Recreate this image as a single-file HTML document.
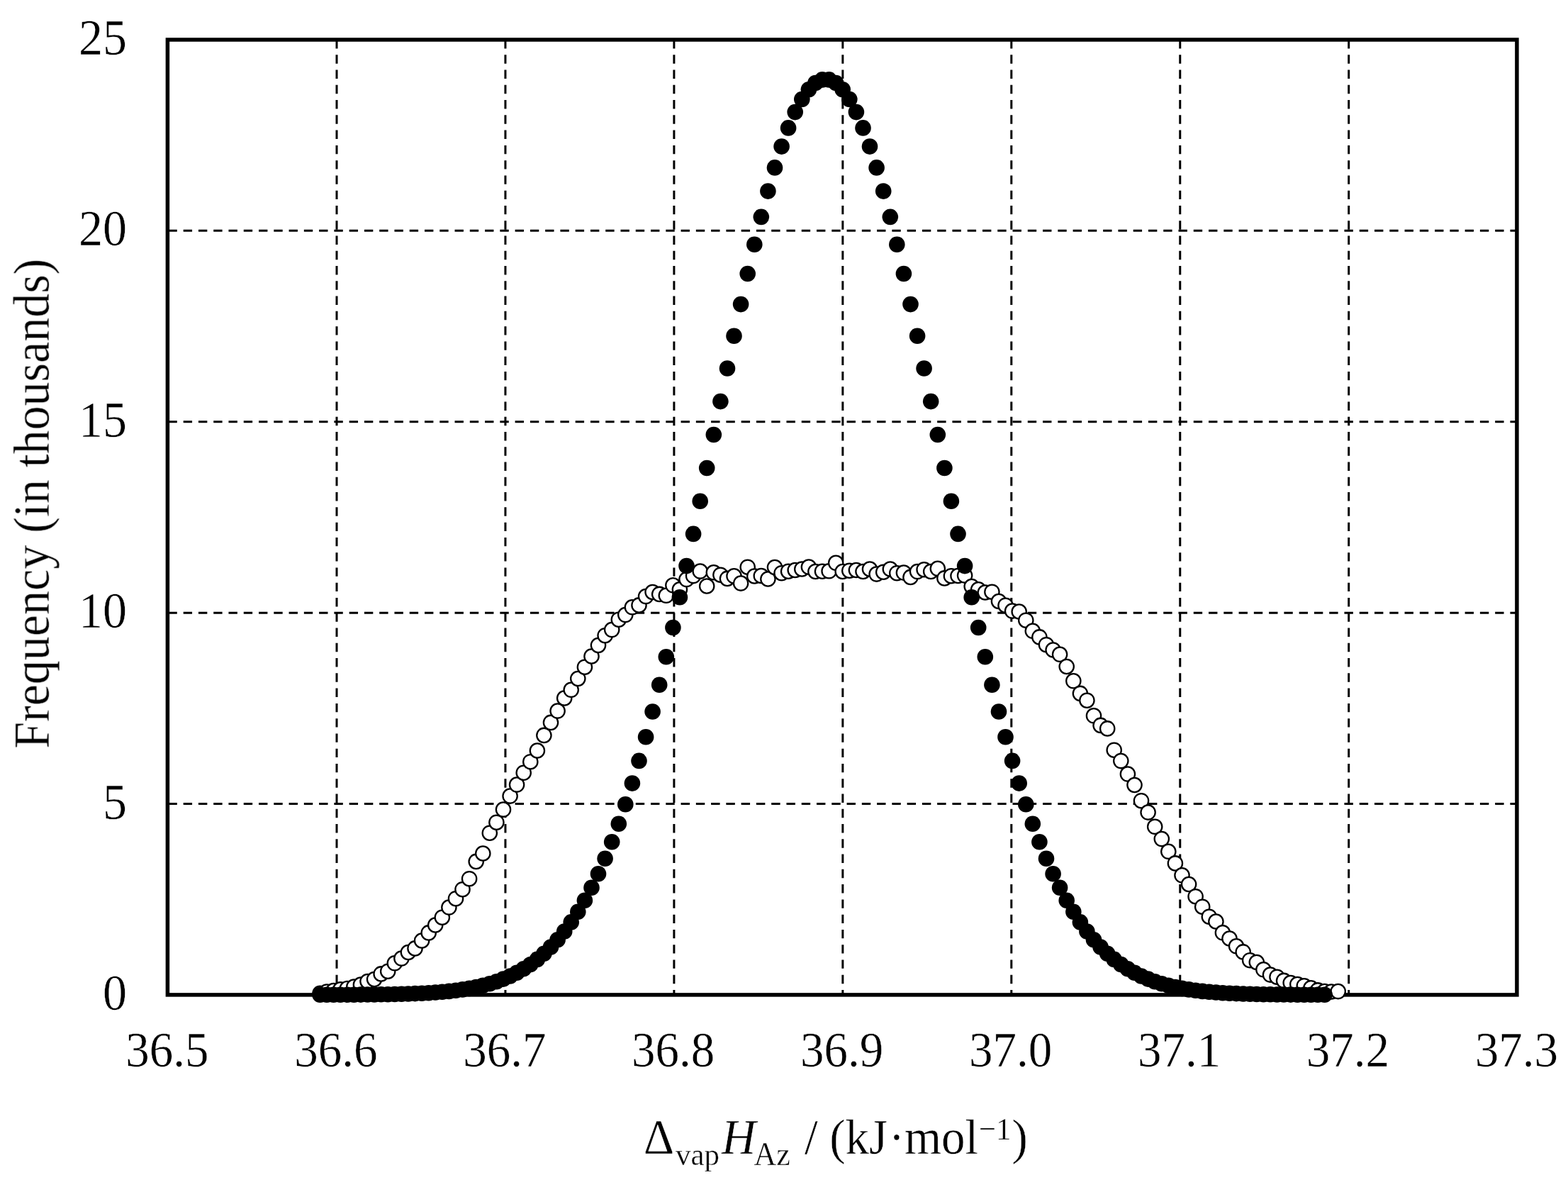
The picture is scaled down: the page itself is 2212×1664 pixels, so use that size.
<!DOCTYPE html>
<html lang="en"><head><meta charset="utf-8"><title>Frequency distribution</title>
<style>html,body{margin:0;padding:0;background:#fff}body{width:2212px;height:1664px;overflow:hidden}svg{display:block}text{font-family:"Liberation Serif","DejaVu Serif",serif;fill:#000}</style></head><body>
<svg width="2212" height="1664" viewBox="0 0 2212 1664">
<defs><filter id="soft" x="0" y="0" width="2212" height="1664" filterUnits="userSpaceOnUse"><feGaussianBlur stdDeviation="0.30"/></filter></defs>
<rect x="0" y="0" width="2212" height="1664" fill="#fff"/>
<g filter="url(#soft)">
<g stroke="#000" stroke-width="3.00" stroke-dasharray="12.4 8.87" fill="none"><line x1="475.00" y1="56.00" x2="475.00" y2="1402.90" stroke-dashoffset="0.00"/><line x1="712.95" y1="56.00" x2="712.95" y2="1402.90" stroke-dashoffset="0.00"/><line x1="950.90" y1="56.00" x2="950.90" y2="1402.90" stroke-dashoffset="0.00"/><line x1="1188.85" y1="56.00" x2="1188.85" y2="1402.90" stroke-dashoffset="0.00"/><line x1="1426.80" y1="56.00" x2="1426.80" y2="1402.90" stroke-dashoffset="0.00"/><line x1="1664.75" y1="56.00" x2="1664.75" y2="1402.90" stroke-dashoffset="0.00"/><line x1="1902.70" y1="56.00" x2="1902.70" y2="1402.90" stroke-dashoffset="0.00"/><line x1="236.40" y1="1133.57" x2="2139.90" y2="1133.57" stroke-dashoffset="-1.00"/><line x1="236.40" y1="864.14" x2="2139.90" y2="864.14" stroke-dashoffset="-1.00"/><line x1="236.40" y1="594.71" x2="2139.90" y2="594.71" stroke-dashoffset="-1.00"/><line x1="236.40" y1="325.28" x2="2139.90" y2="325.28" stroke-dashoffset="-1.00"/></g>
<rect x="236.40" y="56.00" width="1903.50" height="1346.90" fill="none" stroke="#000" stroke-width="5.50"/>
<g fill="#fff" stroke="#000" stroke-width="2.30"><circle cx="451.5" cy="1400.7" r="10.15"/><circle cx="461.0" cy="1398.6" r="10.15"/><circle cx="470.6" cy="1397.0" r="10.15"/><circle cx="480.2" cy="1395.3" r="10.15"/><circle cx="489.8" cy="1394.0" r="10.15"/><circle cx="499.3" cy="1391.5" r="10.15"/><circle cx="508.9" cy="1388.5" r="10.15"/><circle cx="518.5" cy="1384.0" r="10.15"/><circle cx="528.1" cy="1381.0" r="10.15"/><circle cx="537.6" cy="1373.4" r="10.15"/><circle cx="547.2" cy="1369.7" r="10.15"/><circle cx="556.8" cy="1358.3" r="10.15"/><circle cx="566.4" cy="1351.6" r="10.15"/><circle cx="575.9" cy="1343.0" r="10.15"/><circle cx="585.5" cy="1337.4" r="10.15"/><circle cx="595.1" cy="1326.5" r="10.15"/><circle cx="604.7" cy="1315.4" r="10.15"/><circle cx="614.2" cy="1304.5" r="10.15"/><circle cx="623.8" cy="1293.7" r="10.15"/><circle cx="633.4" cy="1279.6" r="10.15"/><circle cx="643.0" cy="1267.2" r="10.15"/><circle cx="652.5" cy="1254.2" r="10.15"/><circle cx="662.1" cy="1239.2" r="10.15"/><circle cx="671.7" cy="1214.9" r="10.15"/><circle cx="681.3" cy="1203.5" r="10.15"/><circle cx="690.8" cy="1174.7" r="10.15"/><circle cx="700.4" cy="1159.7" r="10.15"/><circle cx="710.0" cy="1141.6" r="10.15"/><circle cx="719.6" cy="1122.6" r="10.15"/><circle cx="729.1" cy="1106.6" r="10.15"/><circle cx="738.7" cy="1089.7" r="10.15"/><circle cx="748.3" cy="1074.2" r="10.15"/><circle cx="757.9" cy="1058.5" r="10.15"/><circle cx="767.4" cy="1036.9" r="10.15"/><circle cx="777.0" cy="1018.9" r="10.15"/><circle cx="786.6" cy="1002.6" r="10.15"/><circle cx="796.2" cy="984.5" r="10.15"/><circle cx="805.7" cy="972.8" r="10.15"/><circle cx="815.3" cy="957.0" r="10.15"/><circle cx="824.9" cy="940.7" r="10.15"/><circle cx="834.5" cy="925.5" r="10.15"/><circle cx="844.0" cy="910.0" r="10.15"/><circle cx="853.6" cy="896.2" r="10.15"/><circle cx="863.2" cy="888.1" r="10.15"/><circle cx="872.8" cy="873.7" r="10.15"/><circle cx="882.3" cy="867.1" r="10.15"/><circle cx="891.9" cy="856.3" r="10.15"/><circle cx="901.5" cy="853.4" r="10.15"/><circle cx="911.1" cy="841.1" r="10.15"/><circle cx="920.6" cy="835.0" r="10.15"/><circle cx="930.2" cy="837.9" r="10.15"/><circle cx="939.8" cy="839.8" r="10.15"/><circle cx="949.4" cy="825.3" r="10.15"/><circle cx="958.9" cy="831.3" r="10.15"/><circle cx="968.5" cy="817.1" r="10.15"/><circle cx="978.1" cy="812.1" r="10.15"/><circle cx="987.7" cy="805.6" r="10.15"/><circle cx="997.2" cy="826.5" r="10.15"/><circle cx="1006.8" cy="807.3" r="10.15"/><circle cx="1016.4" cy="810.7" r="10.15"/><circle cx="1026.0" cy="815.9" r="10.15"/><circle cx="1035.5" cy="812.3" r="10.15"/><circle cx="1045.1" cy="822.6" r="10.15"/><circle cx="1054.7" cy="799.7" r="10.15"/><circle cx="1064.3" cy="812.5" r="10.15"/><circle cx="1073.8" cy="812.0" r="10.15"/><circle cx="1083.4" cy="816.5" r="10.15"/><circle cx="1093.0" cy="800.0" r="10.15"/><circle cx="1102.6" cy="808.2" r="10.15"/><circle cx="1112.1" cy="805.7" r="10.15"/><circle cx="1121.7" cy="804.0" r="10.15"/><circle cx="1131.3" cy="802.5" r="10.15"/><circle cx="1140.9" cy="799.6" r="10.15"/><circle cx="1150.4" cy="806.0" r="10.15"/><circle cx="1160.0" cy="805.7" r="10.15"/><circle cx="1169.6" cy="805.3" r="10.15"/><circle cx="1179.2" cy="793.8" r="10.15"/><circle cx="1188.7" cy="806.0" r="10.15"/><circle cx="1198.3" cy="804.7" r="10.15"/><circle cx="1207.9" cy="804.0" r="10.15"/><circle cx="1217.5" cy="806.0" r="10.15"/><circle cx="1227.0" cy="802.5" r="10.15"/><circle cx="1236.6" cy="809.6" r="10.15"/><circle cx="1246.2" cy="806.7" r="10.15"/><circle cx="1255.8" cy="802.5" r="10.15"/><circle cx="1265.3" cy="808.2" r="10.15"/><circle cx="1274.9" cy="807.6" r="10.15"/><circle cx="1284.5" cy="813.9" r="10.15"/><circle cx="1294.1" cy="806.1" r="10.15"/><circle cx="1303.6" cy="803.2" r="10.15"/><circle cx="1313.2" cy="806.0" r="10.15"/><circle cx="1322.8" cy="801.8" r="10.15"/><circle cx="1332.4" cy="815.4" r="10.15"/><circle cx="1341.9" cy="812.2" r="10.15"/><circle cx="1351.5" cy="812.0" r="10.15"/><circle cx="1361.1" cy="811.6" r="10.15"/><circle cx="1370.7" cy="827.0" r="10.15"/><circle cx="1380.2" cy="831.3" r="10.15"/><circle cx="1389.8" cy="835.5" r="10.15"/><circle cx="1399.4" cy="834.7" r="10.15"/><circle cx="1409.0" cy="848.0" r="10.15"/><circle cx="1418.5" cy="853.7" r="10.15"/><circle cx="1428.1" cy="861.6" r="10.15"/><circle cx="1437.7" cy="862.5" r="10.15"/><circle cx="1447.3" cy="874.7" r="10.15"/><circle cx="1456.8" cy="889.8" r="10.15"/><circle cx="1466.4" cy="898.4" r="10.15"/><circle cx="1476.0" cy="909.2" r="10.15"/><circle cx="1485.6" cy="916.5" r="10.15"/><circle cx="1495.1" cy="922.8" r="10.15"/><circle cx="1504.7" cy="940.0" r="10.15"/><circle cx="1514.3" cy="960.3" r="10.15"/><circle cx="1523.9" cy="977.9" r="10.15"/><circle cx="1533.4" cy="987.7" r="10.15"/><circle cx="1543.0" cy="1009.3" r="10.15"/><circle cx="1552.6" cy="1022.9" r="10.15"/><circle cx="1562.2" cy="1027.4" r="10.15"/><circle cx="1571.7" cy="1057.7" r="10.15"/><circle cx="1581.3" cy="1073.1" r="10.15"/><circle cx="1590.9" cy="1091.6" r="10.15"/><circle cx="1600.5" cy="1107.0" r="10.15"/><circle cx="1610.0" cy="1129.2" r="10.15"/><circle cx="1619.6" cy="1145.6" r="10.15"/><circle cx="1629.2" cy="1165.8" r="10.15"/><circle cx="1638.8" cy="1183.1" r="10.15"/><circle cx="1648.3" cy="1200.8" r="10.15"/><circle cx="1657.9" cy="1217.4" r="10.15"/><circle cx="1667.5" cy="1234.3" r="10.15"/><circle cx="1677.1" cy="1247.0" r="10.15"/><circle cx="1686.6" cy="1264.2" r="10.15"/><circle cx="1696.2" cy="1278.7" r="10.15"/><circle cx="1705.8" cy="1292.7" r="10.15"/><circle cx="1715.4" cy="1299.5" r="10.15"/><circle cx="1724.9" cy="1315.3" r="10.15"/><circle cx="1734.5" cy="1323.5" r="10.15"/><circle cx="1744.1" cy="1334.3" r="10.15"/><circle cx="1753.7" cy="1342.4" r="10.15"/><circle cx="1763.2" cy="1354.2" r="10.15"/><circle cx="1772.8" cy="1357.0" r="10.15"/><circle cx="1782.4" cy="1367.3" r="10.15"/><circle cx="1792.0" cy="1374.6" r="10.15"/><circle cx="1801.5" cy="1377.7" r="10.15"/><circle cx="1811.1" cy="1382.9" r="10.15"/><circle cx="1820.7" cy="1386.0" r="10.15"/><circle cx="1830.3" cy="1388.1" r="10.15"/><circle cx="1839.8" cy="1390.2" r="10.15"/><circle cx="1849.4" cy="1393.3" r="10.15"/><circle cx="1859.0" cy="1396.4" r="10.15"/><circle cx="1868.6" cy="1398.0" r="10.15"/><circle cx="1878.1" cy="1398.5" r="10.15"/><circle cx="1887.7" cy="1398.1" r="10.15"/></g>
<g fill="#000"><circle cx="451.5" cy="1402.8" r="11.30"/><circle cx="461.0" cy="1402.8" r="11.30"/><circle cx="470.6" cy="1402.8" r="11.30"/><circle cx="480.2" cy="1402.8" r="11.30"/><circle cx="489.8" cy="1402.7" r="11.30"/><circle cx="499.3" cy="1402.7" r="11.30"/><circle cx="508.9" cy="1402.6" r="11.30"/><circle cx="518.5" cy="1402.5" r="11.30"/><circle cx="528.1" cy="1402.5" r="11.30"/><circle cx="537.6" cy="1402.3" r="11.30"/><circle cx="547.2" cy="1402.2" r="11.30"/><circle cx="556.8" cy="1402.0" r="11.30"/><circle cx="566.4" cy="1401.8" r="11.30"/><circle cx="575.9" cy="1401.5" r="11.30"/><circle cx="585.5" cy="1401.1" r="11.30"/><circle cx="595.1" cy="1400.7" r="11.30"/><circle cx="604.7" cy="1400.2" r="11.30"/><circle cx="614.2" cy="1399.5" r="11.30"/><circle cx="623.8" cy="1398.8" r="11.30"/><circle cx="633.4" cy="1397.9" r="11.30"/><circle cx="643.0" cy="1396.7" r="11.30"/><circle cx="652.5" cy="1395.4" r="11.30"/><circle cx="662.1" cy="1393.9" r="11.30"/><circle cx="671.7" cy="1392.0" r="11.30"/><circle cx="681.3" cy="1389.8" r="11.30"/><circle cx="690.8" cy="1387.2" r="11.30"/><circle cx="700.4" cy="1384.2" r="11.30"/><circle cx="710.0" cy="1380.6" r="11.30"/><circle cx="719.6" cy="1376.5" r="11.30"/><circle cx="729.1" cy="1371.8" r="11.30"/><circle cx="738.7" cy="1366.3" r="11.30"/><circle cx="748.3" cy="1360.1" r="11.30"/><circle cx="757.9" cy="1352.9" r="11.30"/><circle cx="767.4" cy="1344.8" r="11.30"/><circle cx="777.0" cy="1335.6" r="11.30"/><circle cx="786.6" cy="1325.2" r="11.30"/><circle cx="796.2" cy="1313.5" r="11.30"/><circle cx="805.7" cy="1300.4" r="11.30"/><circle cx="815.3" cy="1285.8" r="11.30"/><circle cx="824.9" cy="1269.7" r="11.30"/><circle cx="834.5" cy="1251.8" r="11.30"/><circle cx="844.0" cy="1232.2" r="11.30"/><circle cx="853.6" cy="1210.7" r="11.30"/><circle cx="863.2" cy="1187.2" r="11.30"/><circle cx="872.8" cy="1161.7" r="11.30"/><circle cx="882.3" cy="1134.2" r="11.30"/><circle cx="891.9" cy="1104.6" r="11.30"/><circle cx="901.5" cy="1072.9" r="11.30"/><circle cx="911.1" cy="1039.2" r="11.30"/><circle cx="920.6" cy="1003.5" r="11.30"/><circle cx="930.2" cy="965.8" r="11.30"/><circle cx="939.8" cy="926.3" r="11.30"/><circle cx="949.4" cy="885.0" r="11.30"/><circle cx="958.9" cy="842.3" r="11.30"/><circle cx="968.5" cy="798.1" r="11.30"/><circle cx="978.1" cy="752.9" r="11.30"/><circle cx="987.7" cy="706.8" r="11.30"/><circle cx="997.2" cy="660.0" r="11.30"/><circle cx="1006.8" cy="613.0" r="11.30"/><circle cx="1016.4" cy="566.1" r="11.30"/><circle cx="1026.0" cy="519.5" r="11.30"/><circle cx="1035.5" cy="473.7" r="11.30"/><circle cx="1045.1" cy="429.1" r="11.30"/><circle cx="1054.7" cy="386.0" r="11.30"/><circle cx="1064.3" cy="344.8" r="11.30"/><circle cx="1073.8" cy="305.9" r="11.30"/><circle cx="1083.4" cy="269.6" r="11.30"/><circle cx="1093.0" cy="236.4" r="11.30"/><circle cx="1102.6" cy="206.6" r="11.30"/><circle cx="1112.1" cy="180.4" r="11.30"/><circle cx="1121.7" cy="158.1" r="11.30"/><circle cx="1131.3" cy="140.0" r="11.30"/><circle cx="1140.9" cy="126.3" r="11.30"/><circle cx="1150.4" cy="117.0" r="11.30"/><circle cx="1160.0" cy="112.4" r="11.30"/><circle cx="1169.6" cy="112.4" r="11.30"/><circle cx="1179.2" cy="117.0" r="11.30"/><circle cx="1188.7" cy="126.3" r="11.30"/><circle cx="1198.3" cy="140.0" r="11.30"/><circle cx="1207.9" cy="158.1" r="11.30"/><circle cx="1217.5" cy="180.4" r="11.30"/><circle cx="1227.0" cy="206.6" r="11.30"/><circle cx="1236.6" cy="236.4" r="11.30"/><circle cx="1246.2" cy="269.6" r="11.30"/><circle cx="1255.8" cy="305.9" r="11.30"/><circle cx="1265.3" cy="344.8" r="11.30"/><circle cx="1274.9" cy="386.0" r="11.30"/><circle cx="1284.5" cy="429.1" r="11.30"/><circle cx="1294.1" cy="473.7" r="11.30"/><circle cx="1303.6" cy="519.5" r="11.30"/><circle cx="1313.2" cy="566.1" r="11.30"/><circle cx="1322.8" cy="613.0" r="11.30"/><circle cx="1332.4" cy="660.0" r="11.30"/><circle cx="1341.9" cy="706.8" r="11.30"/><circle cx="1351.5" cy="752.9" r="11.30"/><circle cx="1361.1" cy="798.1" r="11.30"/><circle cx="1370.7" cy="842.3" r="11.30"/><circle cx="1380.2" cy="885.0" r="11.30"/><circle cx="1389.8" cy="926.3" r="11.30"/><circle cx="1399.4" cy="965.8" r="11.30"/><circle cx="1409.0" cy="1003.5" r="11.30"/><circle cx="1418.5" cy="1039.2" r="11.30"/><circle cx="1428.1" cy="1072.9" r="11.30"/><circle cx="1437.7" cy="1104.6" r="11.30"/><circle cx="1447.3" cy="1134.2" r="11.30"/><circle cx="1456.8" cy="1161.7" r="11.30"/><circle cx="1466.4" cy="1187.2" r="11.30"/><circle cx="1476.0" cy="1210.7" r="11.30"/><circle cx="1485.6" cy="1232.2" r="11.30"/><circle cx="1495.1" cy="1251.8" r="11.30"/><circle cx="1504.7" cy="1269.7" r="11.30"/><circle cx="1514.3" cy="1285.8" r="11.30"/><circle cx="1523.9" cy="1300.4" r="11.30"/><circle cx="1533.4" cy="1313.5" r="11.30"/><circle cx="1543.0" cy="1325.2" r="11.30"/><circle cx="1552.6" cy="1335.6" r="11.30"/><circle cx="1562.2" cy="1344.8" r="11.30"/><circle cx="1571.7" cy="1352.9" r="11.30"/><circle cx="1581.3" cy="1360.1" r="11.30"/><circle cx="1590.9" cy="1366.3" r="11.30"/><circle cx="1600.5" cy="1371.8" r="11.30"/><circle cx="1610.0" cy="1376.5" r="11.30"/><circle cx="1619.6" cy="1380.6" r="11.30"/><circle cx="1629.2" cy="1384.2" r="11.30"/><circle cx="1638.8" cy="1387.2" r="11.30"/><circle cx="1648.3" cy="1389.8" r="11.30"/><circle cx="1657.9" cy="1392.0" r="11.30"/><circle cx="1667.5" cy="1393.9" r="11.30"/><circle cx="1677.1" cy="1395.4" r="11.30"/><circle cx="1686.6" cy="1396.7" r="11.30"/><circle cx="1696.2" cy="1397.9" r="11.30"/><circle cx="1705.8" cy="1398.8" r="11.30"/><circle cx="1715.4" cy="1399.5" r="11.30"/><circle cx="1724.9" cy="1400.2" r="11.30"/><circle cx="1734.5" cy="1400.7" r="11.30"/><circle cx="1744.1" cy="1401.1" r="11.30"/><circle cx="1753.7" cy="1401.5" r="11.30"/><circle cx="1763.2" cy="1401.8" r="11.30"/><circle cx="1772.8" cy="1402.0" r="11.30"/><circle cx="1782.4" cy="1402.2" r="11.30"/><circle cx="1792.0" cy="1402.3" r="11.30"/><circle cx="1801.5" cy="1402.5" r="11.30"/><circle cx="1811.1" cy="1402.5" r="11.30"/><circle cx="1820.7" cy="1402.6" r="11.30"/><circle cx="1830.3" cy="1402.7" r="11.30"/><circle cx="1839.8" cy="1402.7" r="11.30"/><circle cx="1849.4" cy="1402.8" r="11.30"/><circle cx="1859.0" cy="1402.8" r="11.30"/><circle cx="1868.6" cy="1402.8" r="11.30"/></g>
<g stroke="#fff" stroke-width="0.40" stroke-linejoin="round">
<text transform="translate(179.0,1423.90) scale(1,1.045)" font-size="68.0" text-anchor="end">0</text>
<text transform="translate(179.0,1154.52) scale(1,1.045)" font-size="68.0" text-anchor="end">5</text>
<text transform="translate(179.0,885.14) scale(1,1.045)" font-size="68.0" text-anchor="end">10</text>
<text transform="translate(179.0,615.76) scale(1,1.045)" font-size="68.0" text-anchor="end">15</text>
<text transform="translate(179.0,346.38) scale(1,1.045)" font-size="68.0" text-anchor="end">20</text>
<text transform="translate(179.0,77.00) scale(1,1.045)" font-size="68.0" text-anchor="end">25</text>
<text transform="translate(235.90,1504.3) scale(1,1.055)" font-size="67.0" text-anchor="middle">36.5</text>
<text transform="translate(473.84,1504.3) scale(1,1.055)" font-size="67.0" text-anchor="middle">36.6</text>
<text transform="translate(711.77,1504.3) scale(1,1.055)" font-size="67.0" text-anchor="middle">36.7</text>
<text transform="translate(949.71,1504.3) scale(1,1.055)" font-size="67.0" text-anchor="middle">36.8</text>
<text transform="translate(1187.65,1504.3) scale(1,1.055)" font-size="67.0" text-anchor="middle">36.9</text>
<text transform="translate(1425.59,1504.3) scale(1,1.055)" font-size="67.0" text-anchor="middle">37.0</text>
<text transform="translate(1663.53,1504.3) scale(1,1.055)" font-size="67.0" text-anchor="middle">37.1</text>
<text transform="translate(1901.46,1504.3) scale(1,1.055)" font-size="67.0" text-anchor="middle">37.2</text>
<text transform="translate(2139.40,1504.3) scale(1,1.055)" font-size="67.0" text-anchor="middle">37.3</text>
<text transform="translate(69.2,710.2) rotate(-90) scale(1,1.055)" font-size="68" text-anchor="middle">Frequency (in thousands)</text>
<text transform="translate(0,1626.7) scale(1,1.055)" font-size="67.0" y="0"><tspan x="907.9">Δ</tspan><tspan x="952.9" dy="15.2" font-size="43">vap</tspan><tspan x="1018" dy="-15.2" font-style="italic">H</tspan><tspan x="1063.4" dy="15.2" font-size="44">Az</tspan><tspan x="1118.2" dy="-15.2"> / (kJ</tspan><tspan x="1253.8">·</tspan><tspan x="1276">mol</tspan><tspan x="1381" dy="-18.9" font-size="43">−</tspan><tspan x="1404.9" font-size="43">1</tspan><tspan x="1427.6" dy="18.9">)</tspan></text>
</g>
</g>
</svg></body></html>
